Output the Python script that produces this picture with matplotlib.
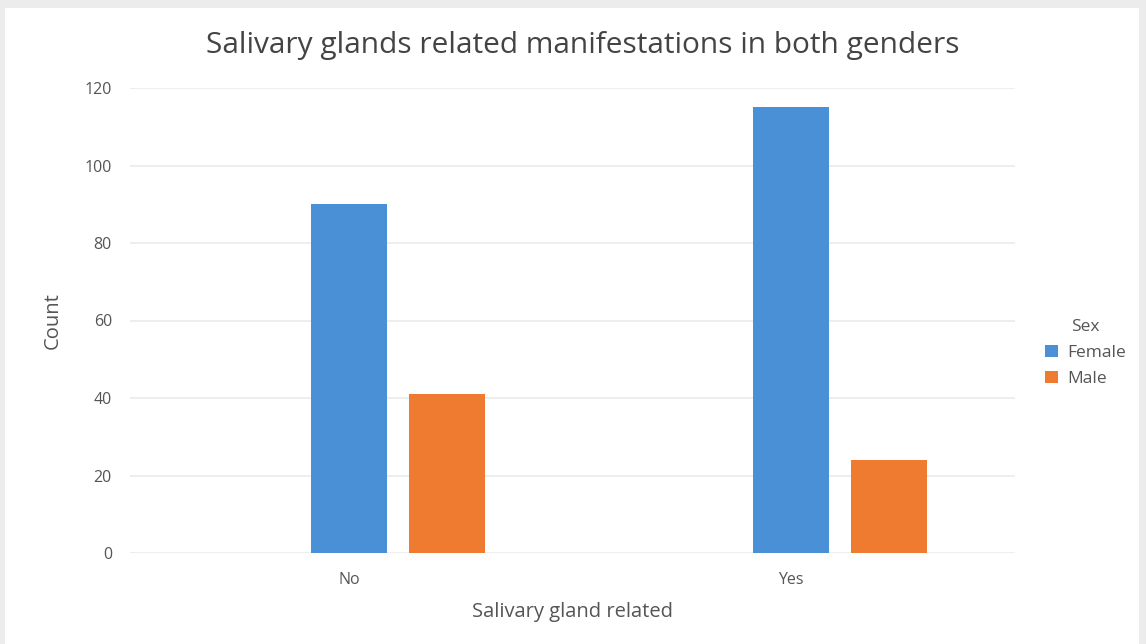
import matplotlib
matplotlib.use("Agg")
import matplotlib.pyplot as plt
from matplotlib.patches import Rectangle
import numpy as np

categories = ["No", "Yes"]
female = [90, 115]
male = [41, 24]
series_names = ["Female", "Male"]
colors = ["#4A90D6", "#EE7B30"]
yticks = [0, 20, 40, 60, 80, 100, 120]

plt.rcParams['font.family'] = ['Open Sans', 'DejaVu Sans']

fig = plt.figure(figsize=(11.46, 6.44), dpi=100, facecolor="#ececec")
# white panel
fig.patches.append(Rectangle((5/1146, 0), (1139-5)/1146, 1 - 8/644,
                             transform=fig.transFigure, facecolor="white",
                             edgecolor="none", zorder=-10))

ax = fig.add_axes([130/1146, (644-553)/644, (1015-130)/1146, (553-88)/644])
ax.set_zorder(2)
ax.set_facecolor("white")

x = np.arange(len(categories))
offset = 0.222
width = 0.172
ax.bar(x, female, width=width, color=colors[0], label=series_names[0], zorder=3)
ax.bar(x + offset, male, width=width, color=colors[1], label=series_names[1], zorder=3)

ax.set_xlim(-0.495, 1.507)
ax.set_ylim(0, 120)
ax.set_yticks(yticks)
ax.set_xticks(x)
ax.set_xticklabels(categories)
ax.grid(axis="y", color="#ebebeb", linewidth=1.2, zorder=0)
for s in ax.spines.values():
    s.set_visible(False)
ax.tick_params(axis="both", length=0, colors="#555555", labelsize=11.5)
ax.tick_params(axis="y", pad=13)
ax.tick_params(axis="x", pad=14)

ax.set_ylabel("Count", fontsize=14.5, color="#555555", labelpad=16)
ax.set_xlabel("Salivary gland related", fontsize=14.5, color="#555555", labelpad=10)

fig.text(583/1146, 1 - 45/644, "Salivary glands related manifestations in both genders",
         ha="center", va="center", fontsize=21.5, color="#444444", zorder=5)

leg = ax.legend(title="Sex", loc="center left", bbox_to_anchor=(1.016, 0.43),
                frameon=False, fontsize=12.5, title_fontsize=12.5,
                handlelength=0.75, handleheight=0.75, handletextpad=0.55,
                labelspacing=0.55)
for t in leg.get_texts():
    t.set_color("#555555")
leg.get_title().set_color("#555555")

fig.savefig("out.png", dpi=100, facecolor=fig.get_facecolor())
